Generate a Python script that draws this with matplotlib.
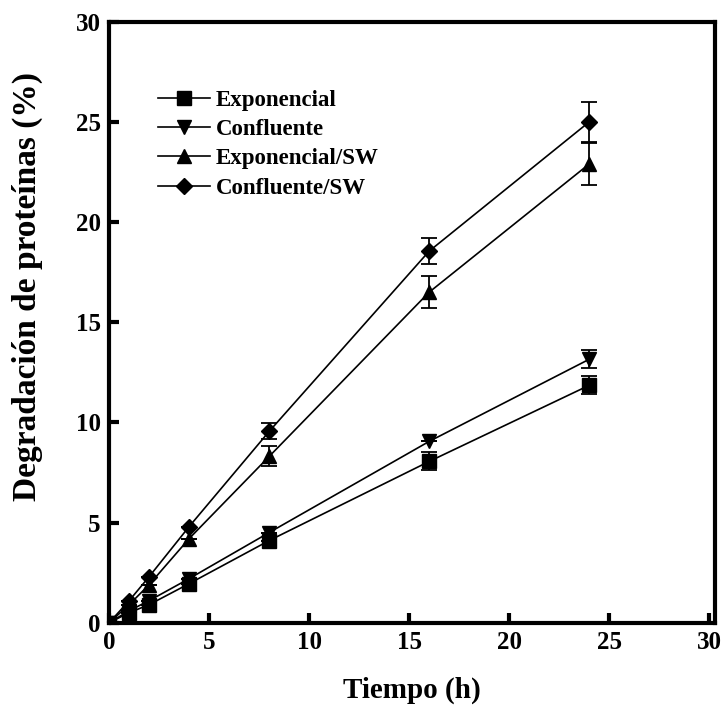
import numpy as np
import matplotlib.pyplot as plt

plt.rcParams["font.family"] = ["Liberation Serif", "DejaVu Serif"]
plt.rcParams["font.weight"] = "bold"

tiempo = [0, 1, 2, 4, 8, 16, 24]

exp_y = [0, 0.5, 0.9, 1.95, 4.1, 8.05, 11.85]
exp_err = [0, 0, 0, 0, 0, 0.45, 0.45]
conf_y = [0, 0.6, 1.1, 2.2, 4.5, 9.05, 13.15]
conf_err = [0, 0, 0, 0, 0, 0, 0.45]
expsw_y = [0, 0.9, 1.9, 4.2, 8.3, 16.5, 22.9]
expsw_err = [0, 0, 0, 0, 0.5, 0.8, 1.05]
confsw_y = [0, 1.1, 2.3, 4.8, 9.55, 18.55, 25.0]
confsw_err = [0, 0, 0, 0, 0.4, 0.65, 1.0]

series = [
    ("Exponencial", exp_y, exp_err, "s"),
    ("Confluente", conf_y, conf_err, "v"),
    ("Exponencial/SW", expsw_y, expsw_err, "^"),
    ("Confluente/SW", confsw_y, confsw_err, "D"),
]

fig = plt.figure(figsize=(7.23, 7.06), dpi=100)
ax = fig.add_axes([0.151, 0.118, 0.838, 0.851])

for name, y, err, m in series:
    ms = 8 if m == "D" else 10
    ax.errorbar(tiempo, y, yerr=err, fmt="-" + m, color="black", lw=1.2,
                ms=ms, capsize=6, elinewidth=1.3, capthick=1.3, label=name)

ax.set_xlim(0, 30.3)
ax.set_ylim(0, 30)
ax.set_xticks(np.arange(0, 31, 5))
ax.set_yticks(np.arange(0, 31, 5))
ax.tick_params(direction="in", length=7, width=3, labelsize=18, pad=6)
for lab in ax.get_xticklabels() + ax.get_yticklabels():
    lab.set_fontweight("bold")
for s in ax.spines.values():
    s.set_linewidth(3)

ax.set_xlabel("Tiempo (h)", fontsize=21, fontweight="bold")
ax.set_ylabel("Degradación de proteínas (%)", fontsize=24, fontweight="bold")
ax.xaxis.set_label_coords(0.5, -0.09)
ax.yaxis.set_label_coords(-0.11, 0.56)

handles, labels = ax.get_legend_handles_labels()
handles = [h[0] for h in handles]
ax.legend(handles, labels, loc="upper left", bbox_to_anchor=(0.08, 0.887),
          frameon=False, borderpad=0, borderaxespad=0, handlelength=2.3,
          handletextpad=0.25, labelspacing=0.36,
          prop={"weight": "bold", "size": 16.5})

fig.savefig("out.png", dpi=100)
